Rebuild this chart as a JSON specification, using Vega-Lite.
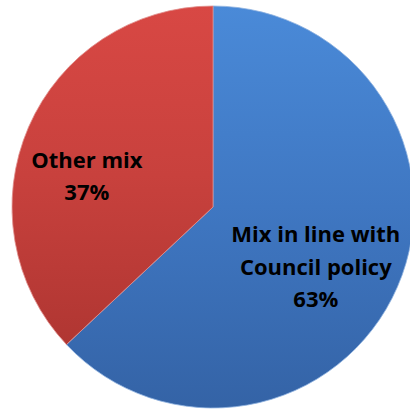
{
  "$schema": "https://vega.github.io/schema/vega-lite/v6.json",
  "width": 410,
  "height": 412,
  "autosize": {"type": "fit", "contains": "padding"},
  "padding": {"left": 16, "right": 0, "top": 2, "bottom": 0},
  "background": "white",
  "view": {"stroke": null},
  "data": {
    "values": [
      {"category": "Mix in line with Council policy", "share": 63, "label": "Mix in line with\nCouncil policy\n63%", "order": 1},
      {"category": "Other mix", "share": 37, "label": "Other mix\n37%", "order": 2}
    ]
  },
  "encoding": {
    "theta": {"field": "share", "type": "quantitative", "stack": true},
    "order": {"field": "order", "type": "quantitative"}
  },
  "layer": [
    {
      "mark": {"type": "arc", "radius": 201, "strokeWidth": 0.8},
      "encoding": {
        "color": {
          "condition": {
            "test": "datum.order == 1",
            "value": {
              "gradient": "linear", "x1": 0, "y1": 0, "x2": 0, "y2": 1,
              "stops": [
                {"offset": 0, "color": "#4a8ad8"},
                {"offset": 0.5, "color": "#3f77c2"},
                {"offset": 1, "color": "#3463a6"}
              ]
            }
          },
          "value": {
            "gradient": "linear", "x1": 0, "y1": 0, "x2": 0, "y2": 1,
            "stops": [
              {"offset": 0, "color": "#d84844"},
              {"offset": 0.5, "color": "#c8413d"},
              {"offset": 1, "color": "#b03632"}
            ]
          }
        },
        "stroke": {
          "condition": {"test": "datum.order == 1", "value": "#8fb2e0"},
          "value": "#e08e8b"
        }
      }
    },
    {
      "mark": {
        "type": "text",
        "radius": 112,
        "dy": -16,
        "font": "Open Sans",
        "fontWeight": "bold",
        "fontSize": 22,
        "lineHeight": 32.5,
        "lineBreak": "\n",
        "color": "black",
        "align": "center",
        "baseline": "middle"
      },
      "encoding": {
        "text": {"condition": {"test": "datum.order == 1", "field": "label"}, "value": ""}
      }
    },
    {
      "mark": {
        "type": "text",
        "radius": 132,
        "dx": -5,
        "dy": 6,
        "font": "Open Sans",
        "fontWeight": "bold",
        "fontSize": 22,
        "lineHeight": 32.5,
        "lineBreak": "\n",
        "color": "black",
        "align": "center",
        "baseline": "middle"
      },
      "encoding": {
        "text": {"condition": {"test": "datum.order == 2", "field": "label"}, "value": ""}
      }
    }
  ]
}
